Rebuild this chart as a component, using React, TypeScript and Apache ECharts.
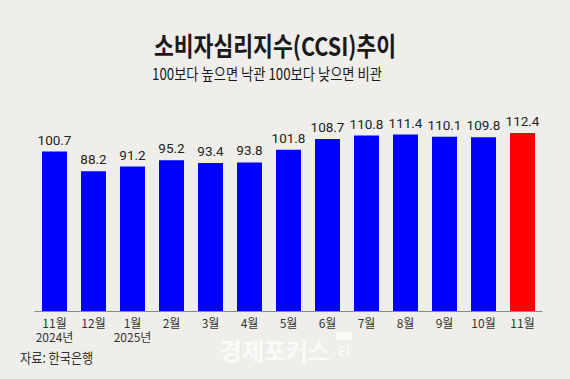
import React, { useEffect, useRef } from "react";
import * as echarts from "echarts";

const months = ["11월\n2024년", "12월", "1월\n2025년", "2월", "3월", "4월", "5월", "6월", "7월", "8월", "9월", "10월", "11월"];
const ccsi = [100.7, 88.2, 91.2, 95.2, 93.4, 93.8, 101.8, 108.7, 110.8, 111.4, 110.1, 109.8, 112.4];
const highlight = [false, false, false, false, false, false, false, false, false, false, false, false, true];

const titleText = "소비자심리지수(CCSI)추이";
const subtitleText = "100보다 높으면 낙관 100보다 낮으면 비관";
const sourceText = "자료: 한국은행";
const watermarkText = "경제포커스";

const BG = "#efeeea";
const BLUE = "#0000ff";
const RED = "#ff0000";
const CJK = '"Noto Sans CJK KR", "Noto Sans", sans-serif';

export default function App() {
  const ref = useRef<HTMLDivElement>(null);
  useEffect(() => {
    document.body.style.margin = "0";
    if (!ref.current) return;
    const chart = echarts.init(ref.current, null, { renderer: "svg" });
    chart.setOption({
      animation: false,
      backgroundColor: BG,
      grid: { left: 35, right: 28, top: 121, bottom: 68, containLabel: false },
      xAxis: {
        type: "category",
        data: months,
        axisTick: { show: false },
        axisLine: { show: true, lineStyle: { color: "#8a8a8a", width: 1 } },
        axisLabel: {
          color: "#333",
          fontFamily: CJK,
          fontSize: 12,
          lineHeight: 14,
          margin: 4,
          interval: 0,
        },
      },
      yAxis: {
        type: "value",
        min: 0,
        max: 120,
        show: false,
        splitLine: { show: false },
      },
      series: [
        {
          type: "bar",
          barWidth: 25,
          data: ccsi.map((v, i) => ({
            value: v,
            itemStyle: { color: highlight[i] ? RED : BLUE },
          })),
          label: {
            show: true,
            position: "top",
            distance: 5,
            color: "#222",
            fontFamily: "Roboto, sans-serif",
            fontSize: 13.5,
            formatter: (p: any) => p.value.toFixed(1),
          },
        },
      ],
      graphic: [
        {
          type: "text",
          x: 275,
          y: 45,
          scaleX: 0.83,
          style: {
            text: titleText,
            font: `bold 26px ${CJK}`,
            fill: "#1a1a1a",
            textAlign: "center",
            textVerticalAlign: "middle",
          },
        },
        {
          type: "text",
          x: 267,
          y: 72.5,
          scaleX: 0.83,
          style: {
            text: subtitleText,
            font: `16px ${CJK}`,
            fill: "#1a1a1a",
            textAlign: "center",
            textVerticalAlign: "middle",
          },
        },
        {
          type: "text",
          x: 20,
          y: 357,
          scaleX: 0.87,
          style: {
            text: sourceText,
            font: `14px ${CJK}`,
            fill: "#333",
            textAlign: "left",
            textVerticalAlign: "middle",
          },
        },
        {
          type: "text",
          x: 275,
          y: 349,
          style: {
            text: watermarkText,
            font: `bold 24px ${CJK}`,
            fill: "rgba(255,255,255,0.75)",
            textAlign: "center",
            textVerticalAlign: "middle",
          },
        },
        {
          type: "rect",
          shape: { x: 336, y: 332, width: 16, height: 8 },
          style: { fill: "rgba(255,255,255,0.75)" },
        },
        {
          type: "text",
          x: 344,
          y: 350,
          style: {
            text: "Ei",
            font: `bold 13px ${CJK}`,
            fill: "rgba(255,255,255,0.75)",
            textAlign: "center",
            textVerticalAlign: "middle",
          },
        },
      ],
    });
    return () => chart.dispose();
  }, []);
  return <div ref={ref} style={{ position: "absolute", left: 0, top: 0, width: 570, height: 379 }} />;
}
